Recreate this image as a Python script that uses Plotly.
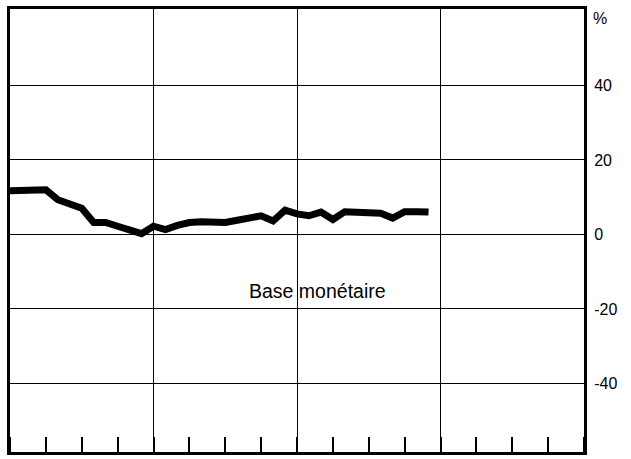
import plotly.graph_objects as go

# Monthly index (0 = left edge of chart), 48 months shown (4 years x 4 quarters)
months = list(range(36))
base_monetaire = [11.7, 11.8, 11.9, 12.0, 9.3, 8.2, 7.0, 3.2, 3.2, 2.2, 1.2, 0.2,
                  2.2, 1.3, 2.4, 3.2, 3.4, 3.3, 3.2, 3.8, 4.4, 5.0, 3.6, 6.5,
                  5.5, 5.0, 6.0, 4.0, 6.1, 6.0, 5.9, 5.7, 4.4, 6.1, 6.1, 6.0]

y_ticks = [-40, -20, 0, 20, 40]
y_ticklabels = ["-40", "-20", "0", "20", "40"]
year_grid = [12, 24, 36]
series_label = "Base monétaire"
unit_label = "%"

fig = go.Figure()
fig.add_trace(go.Scatter(
    x=months, y=base_monetaire, mode="lines",
    line=dict(color="black", width=7), showlegend=False, hoverinfo="skip"))

fig.add_annotation(x=25.7, y=-15.2, xref="x", yref="y", text=series_label,
                   showarrow=False, font=dict(family="Liberation Sans, Arial", size=19.5, color="black"))
fig.add_annotation(x=1, y=58.0, xref="paper", yref="y", text=unit_label,
                   xanchor="left", yanchor="middle", xshift=7, showarrow=False,
                   font=dict(family="Liberation Sans, Arial", size=16, color="black"))

fig.update_layout(
    width=631, height=459,
    margin=dict(l=10, r=47, t=6, b=7),
    paper_bgcolor="white", plot_bgcolor="white",
    font=dict(family="Liberation Sans, Arial", size=16, color="black"),
    xaxis=dict(range=[0, 48], tickvals=year_grid, showticklabels=False, ticks="",
               showgrid=True, gridcolor="black", gridwidth=1, zeroline=False,
               showline=True, linecolor="black", linewidth=3, mirror=True,
               minor=dict(dtick=3, tick0=0, ticks="inside", ticklen=15,
                          tickcolor="black", tickwidth=1.5, showgrid=False)),
    yaxis=dict(range=[-58.4, 60.5], side="right", tickvals=y_ticks, ticktext=y_ticklabels,
               showgrid=True, gridcolor="black", gridwidth=1, zeroline=False,
               showline=True, linecolor="black", linewidth=3, mirror=True,
               ticks="", ticklabelstandoff=4, automargin=False,
               tickfont=dict(family="Liberation Sans, Arial", size=16, color="black")),
)

fig.write_html("out.html", config={"displayModeBar": False},
               post_script="document.body.style.margin='0';document.body.style.overflow='hidden';")
